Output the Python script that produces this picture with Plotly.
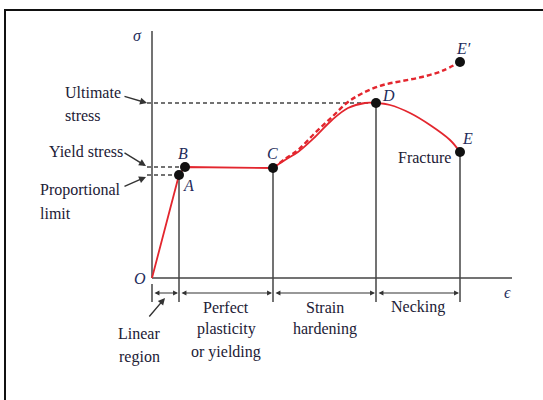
import plotly.graph_objects as go

# ---- data (schematic strain / stress units) ----
point_names = ["O", "A", "B", "C", "D", "E", "E'"]
point_strain = [0, 27, 33, 121, 224, 308, 308]
point_stress = [0, 103, 111, 110, 175, 126, 216]

# linear + yield plateau (O -> A -> B -> C)
plateau_strain = [0, 27, 33, 121]
plateau_stress = [0, 103, 111, 110]

# strain hardening (C -> D), engineering curve
harden_strain = [121, 133, 146, 163, 180, 196, 213, 224]
harden_stress = [110, 118, 126, 141, 158, 170, 175, 175]

# necking (D -> E)
neck_strain = [224, 238, 258, 278, 298, 308]
neck_stress = [175, 173, 165, 153, 138, 126]

# true stress-strain branch (C -> E')
true_strain = [121, 133, 146, 163, 180, 196, 213, 231, 250, 270, 290, 308]
true_stress = [110, 119, 128, 145, 161, 176, 186, 193, 197, 201, 207, 216]

# region boundaries along the strain axis
region_bounds = [0, 27, 121, 224, 308]
region_labels = ["", "Perfect<br>plasticity<br>or yielding", "Strain<br>hardening", "Necking"]

AX = "#444444"
RED = "#e3262e"
TXT = "#1c2035"
LBL = "#1e2b5a"
FONT = "Liberation Serif"

fig = go.Figure()

# axes
fig.add_trace(go.Scatter(x=[0, 0], y=[0, 247], mode="lines", line=dict(color=AX, width=1.5), hoverinfo="skip"))
fig.add_trace(go.Scatter(x=[0, 360], y=[0, 0], mode="lines", line=dict(color=AX, width=1.5), hoverinfo="skip"))
fig.add_trace(go.Scatter(x=[0, 0], y=[-6, -24], mode="lines", line=dict(color=AX, width=1.5), hoverinfo="skip"))

# vertical drop lines at A, C, D, E
for i in [1, 3, 4, 5]:
    fig.add_trace(go.Scatter(x=[point_strain[i], point_strain[i]], y=[point_stress[i], -24],
                             mode="lines", line=dict(color=AX, width=1.5), hoverinfo="skip"))

# dashed guides to stress axis (D, B, A)
for i in [4, 2, 1]:
    fig.add_trace(go.Scatter(x=[-5, point_strain[i]], y=[point_stress[i], point_stress[i]],
                             mode="lines", line=dict(color=AX, width=1.3, dash="4px,3px"), hoverinfo="skip"))

# red curves
fig.add_trace(go.Scatter(x=true_strain, y=true_stress, mode="lines", line_shape="spline",
                         line=dict(color=RED, width=2.4, dash="5px,3px"), hoverinfo="skip"))
fig.add_trace(go.Scatter(x=plateau_strain, y=plateau_stress, mode="lines",
                         line=dict(color=RED, width=1.8), hoverinfo="skip"))
fig.add_trace(go.Scatter(x=harden_strain, y=harden_stress, mode="lines", line_shape="spline",
                         line=dict(color=RED, width=1.8), hoverinfo="skip"))
fig.add_trace(go.Scatter(x=neck_strain, y=neck_stress, mode="lines", line_shape="spline",
                         line=dict(color=RED, width=1.8), hoverinfo="skip"))

# points
fig.add_trace(go.Scatter(x=point_strain[1:], y=point_stress[1:], mode="markers",
                         marker=dict(color="#111111", size=10), hoverinfo="skip"))

ann = []
def txt(x, y, s, xa="center", size=16, color=TXT, italic=False):
    ann.append(dict(x=x, y=y, text=(f"<i>{s}</i>" if italic else s), showarrow=False,
                    xanchor=xa, yanchor="middle", font=dict(family=FONT, size=size, color=color)))

# point labels
label_pos = {"O": (-12, 0), "A": (36, 93), "B": (31, 125), "C": (120, 125),
             "D": (236, 183), "E": (315, 140), "E'": (311, 230)}
for n in point_names:
    x, y = label_pos[n]
    txt(x, y, n.replace("'", "′"), italic=True, color=LBL, size=16)
txt(-15, 243, "σ", italic=True, color=LBL, size=16)
txt(355, -14, "ϵ", italic=True, color=LBL, size=16)

# stress annotations
txt(-89, 186, "Ultimate", xa="left")
txt(-89, 163, "stress", xa="left")
txt(-105, 127, "Yield stress", xa="left")
txt(-114, 88, "Proportional", xa="left")
txt(-114, 65, "limit", xa="left")
txt(301, 121, "Fracture", xa="right")

# leader arrows
for tail, head in [((-29, 182), (-5, 175)), ((-29, 126), (-6, 112)), ((-29, 91), (-6, 101)),
                   ((-4, -40), (13, -20))]:
    ann.append(dict(x=head[0], y=head[1], ax=tail[0], ay=tail[1], xref="x", yref="y",
                    axref="x", ayref="y", text="", showarrow=True, arrowhead=2,
                    arrowsize=1, arrowwidth=1.4, arrowcolor="#333333", standoff=0))

# region dimension arrows
for a, b in zip(region_bounds[:-1], region_bounds[1:]):
    ann.append(dict(x=b - 1, y=-15, ax=a + 1, ay=-15, xref="x", yref="y", axref="x", ayref="y",
                    text="", showarrow=True, arrowhead=2, arrowside="end+start",
                    arrowsize=0.9, arrowwidth=1.1, arrowcolor="#333333", standoff=0, startstandoff=0))

# region labels
line_y = [-29, -51, -74]
for a, b, lab in zip(region_bounds[:-1], region_bounds[1:], region_labels):
    for k, part in enumerate([p for p in lab.split("<br>") if p]):
        txt((a + b) / 2, line_y[k], part)
txt(-13, -55, "Linear")
txt(-13, -79, "region")

fig.update_layout(
    width=543, height=400, margin=dict(l=0, r=0, t=0, b=0),
    paper_bgcolor="white", plot_bgcolor="white", showlegend=False,
    xaxis=dict(range=[-152, 391], visible=False, fixedrange=True),
    yaxis=dict(range=[-122, 278], visible=False, fixedrange=True),
    annotations=ann,
    shapes=[dict(type="rect", xref="paper", yref="paper", x0=5 / 543, x1=1.02, y0=-0.02, y1=1 - 10 / 400,
                 line=dict(color="#111111", width=2), layer="below")],
)

fig.write_html("out.html", config={"displayModeBar": False},
               post_script="document.body.style.margin='0';document.body.style.overflow='hidden';")
